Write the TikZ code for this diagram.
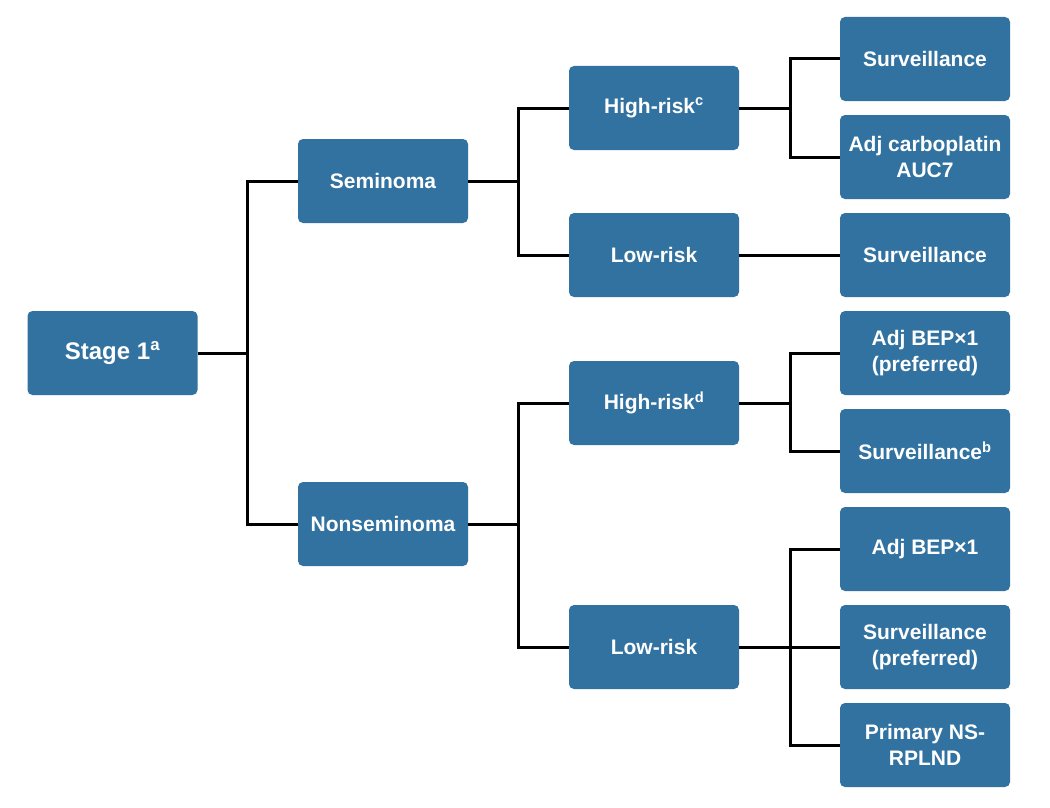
\documentclass[tikz,border=0pt]{standalone}
\usepackage{fontspec}
\setmainfont{Liberation Sans}
\definecolor{boxblue}{RGB}{50,114,161}
\begin{document}
\begin{tikzpicture}[x=1pt,y=-1pt,
  box/.style={draw=none,fill=boxblue,rounded corners=5pt,minimum width=170pt,minimum height=84pt,
    inner sep=0pt,align=center,text=white,font=\fontsize{21}{26}\selectfont\bfseries},
  big/.style={font=\fontsize{24}{29}\selectfont\bfseries},
  conn/.style={draw=black,line width=3pt}]
\useasboundingbox (0,0) rectangle (1050,808);
\node[box,big] (stage) at (112.5,353) {Stage 1\textsuperscript{a}};
\node[box] (sem) at (383,181) {Seminoma};
\node[box] (nons) at (383,524) {Nonseminoma};
\node[box] (hr1) at (654,108) {High-risk\textsuperscript{c}};
\node[box] (lr1) at (654,255) {Low-risk};
\node[box] (hr2) at (654,403) {High-risk\textsuperscript{d}};
\node[box] (lr2) at (654,647) {Low-risk};
\node[box] (s1) at (925,59) {Surveillance};
\node[box] (carb) at (925,157) {Adj carboplatin\\AUC7};
\node[box] (s2) at (925,255) {Surveillance};
\node[box] (bep1) at (925,353) {Adj BEP×1\\(preferred)};
\node[box] (s3) at (925,451) {Surveillance\textsuperscript{b}};
\node[box] (bep2) at (925,549) {Adj BEP×1};
\node[box] (s4) at (925,647) {Surveillance\\(preferred)};
\node[box] (rpl) at (925,745) {Primary NS-\\RPLND};
\coordinate (j1) at (247,353);
\coordinate (j2) at (518,181);
\coordinate (j3) at (790,108);
\coordinate (j4) at (518,524);
\coordinate (j5) at (790,403);
\coordinate (j6) at (790,647);
\draw[conn] (stage.east) -- (j1);
\draw[conn] (sem.west) -| (j1) |- (nons.west);
\draw[conn] (sem.east) -- (j2);
\draw[conn] (hr1.west) -| (j2) |- (lr1.west);
\draw[conn] (hr1.east) -- (j3);
\draw[conn] (s1.west) -| (j3) |- (carb.west);
\draw[conn] (lr1.east) -- (s2.west);
\draw[conn] (nons.east) -- (j4);
\draw[conn] (hr2.west) -| (j4) |- (lr2.west);
\draw[conn] (hr2.east) -- (j5);
\draw[conn] (bep1.west) -| (j5) |- (s3.west);
\draw[conn] (lr2.east) -- (s4.west);
\draw[conn] (bep2.west) -| (j6) |- (rpl.west);
\end{tikzpicture}
\end{document}
